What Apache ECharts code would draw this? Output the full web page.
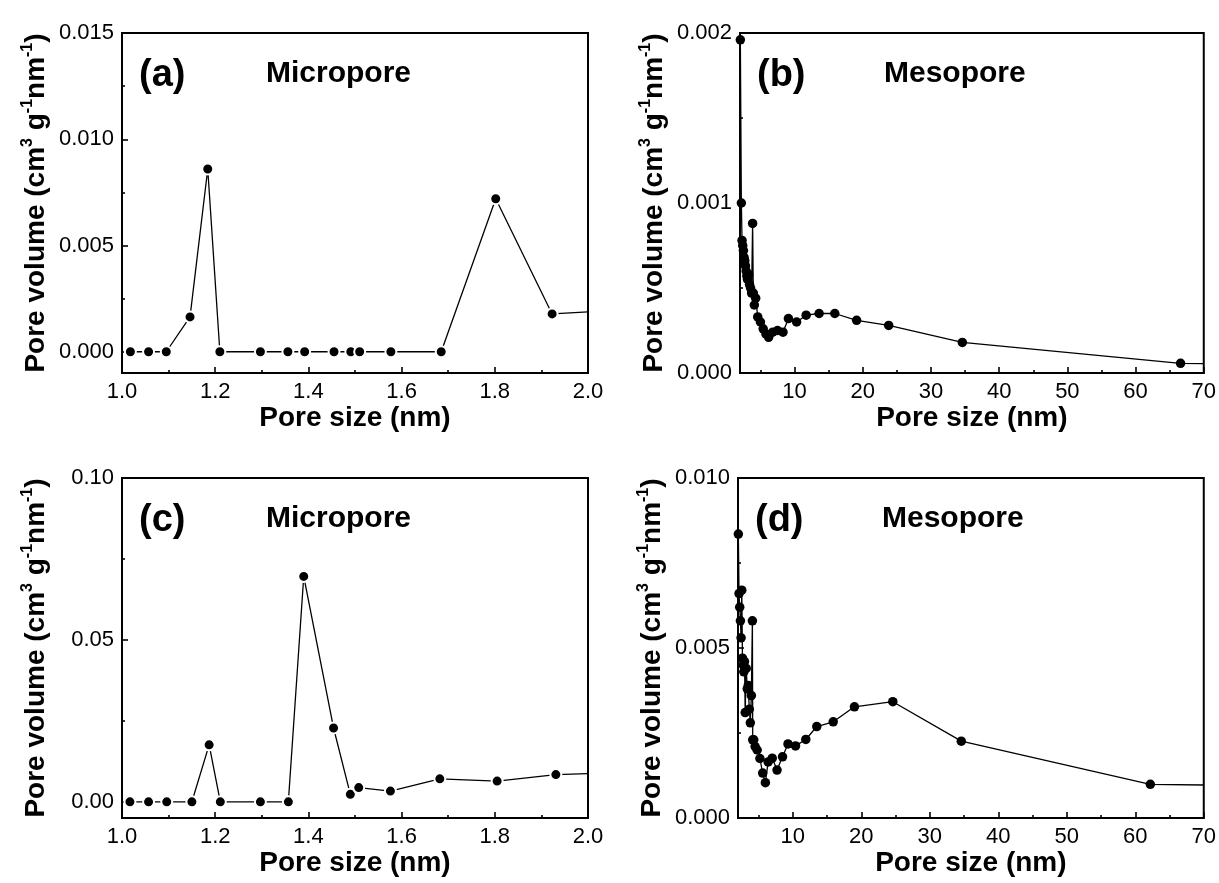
<!DOCTYPE html>
<html><head><meta charset="utf-8">
<script src="https://cdn.jsdelivr.net/npm/echarts@6/dist/echarts.min.js"></script>
<style>html,body{margin:0;padding:0;background:#fff}#c{width:1219px;height:883px}</style>
</head><body><div id="c"></div>
<script>
// ---- data (pore size in nm, pore volume in cm3 g-1 nm-1) ----
const aSize = [1.018, 1.057, 1.095, 1.146, 1.184, 1.210, 1.297, 1.356, 1.392, 1.455, 1.491, 1.510, 1.577, 1.685, 1.802, 1.923, 2.0];
const aVol  = [0, 0, 0, 0.00164, 0.0086, 0, 0, 0, 0, 0, 0, 0, 0, 0, 0.0072, 0.00178, 0.00188];

const bSize = [2.05, 2.2, 2.3, 2.4, 2.5, 2.6, 2.7, 2.8, 2.9, 3.0, 3.1, 3.25, 3.4, 3.55, 3.7, 3.85, 3.95, 4.1, 4.3, 4.6, 5.0, 5.4, 5.8, 6.2, 6.8, 7.5, 8.3, 9.1, 10.3, 11.7, 13.6, 15.9, 19.1, 23.8, 34.6, 66.6, 70];
const bVol  = [0.00196, 0.00100, 0.00078, 0.00075, 0.00072, 0.00068, 0.00066, 0.00063, 0.00060, 0.00057, 0.00055, 0.00058, 0.00052, 0.00050, 0.00047, 0.00088, 0.00047, 0.00040, 0.00044, 0.00033, 0.00030, 0.00026, 0.00023, 0.00021, 0.00024, 0.00025, 0.00024, 0.00032, 0.00030, 0.00034, 0.00035, 0.00035, 0.00031, 0.00028, 0.00018, 0.000057, 0.000055];

const cSize = [1.017, 1.057, 1.096, 1.150, 1.187, 1.211, 1.297, 1.357, 1.390, 1.454, 1.490, 1.508, 1.576, 1.682, 1.805, 1.931, 2.0];
const cVol  = [0, 0, 0, 0, 0.0176, 0, 0, 0, 0.0696, 0.0228, 0.0023, 0.0044, 0.0033, 0.0071, 0.0064, 0.0084, 0.0087];

const dSize = [2.05, 2.15, 2.25, 2.35, 2.45, 2.55, 2.65, 2.75, 2.85, 2.95, 3.05, 3.2, 3.35, 3.5, 3.65, 3.8, 3.95, 4.1, 4.15, 4.3, 4.5, 4.8, 5.2, 5.6, 6.0, 6.4, 7.0, 7.7, 8.5, 9.3, 10.4, 11.9, 13.5, 15.9, 19.0, 24.6, 34.6, 62.2, 70];
const dVol  = [0.00835, 0.0066, 0.0062, 0.0058, 0.0053, 0.0067, 0.0047, 0.0045, 0.0043, 0.0046, 0.0031, 0.0044, 0.0038, 0.0039, 0.0032, 0.0028, 0.0036, 0.0058, 0.0023, 0.0023, 0.0021, 0.0020, 0.00175, 0.00132, 0.00104, 0.00165, 0.00176, 0.00141, 0.0018, 0.00218, 0.00212, 0.00231, 0.00269, 0.00283, 0.00327, 0.00342, 0.00226, 0.00099, 0.00097];

// ---- tick labels ----
const microXTicks = [1.0, 1.2, 1.4, 1.6, 1.8, 2.0];
const microXMinor = [1.1, 1.3, 1.5, 1.7, 1.9];
const mesoXTicks  = [10, 20, 30, 40, 50, 60, 70];
const mesoXMinor  = [5, 15, 25, 35, 45, 55, 65];
const aYTicks = [0, 0.005, 0.010, 0.015];  const aYMinor = [0.0025, 0.0075, 0.0125];
const bYTicks = [0, 0.001, 0.002];         const bYMinor = [0.0005, 0.0015];
const cYTicks = [0, 0.05, 0.10];           const cYMinor = [0.025, 0.075];
const dYTicks = [0, 0.005, 0.010];         const dYMinor = [0.0025, 0.0075];

const panelLetters = ['(a)', '(b)', '(c)', '(d)'];
const panelNames = ['Micropore', 'Mesopore', 'Micropore', 'Mesopore'];

const FONT = '"Liberation Sans", Arial, sans-serif';

const panels = [
  {grid:{left:122, top:33, width:466, height:340}, x:[1,2], y:[-0.001,0.015], xt:microXTicks, xm:microXMinor, xd:1, yt:aYTicks, ym:aYMinor, yd:3, sx:aSize, sy:aVol, gap:true},
  {grid:{left:740, top:33, width:465, height:340}, x:[2,70], y:[0,0.002], xt:mesoXTicks, xm:mesoXMinor, xd:0, yt:bYTicks, ym:bYMinor, yd:3, sx:bSize, sy:bVol, gap:false},
  {grid:{left:122, top:478, width:466, height:340}, x:[1,2], y:[-0.005,0.10], xt:microXTicks, xm:microXMinor, xd:1, yt:cYTicks, ym:cYMinor, yd:2, sx:cSize, sy:cVol, gap:true},
  {grid:{left:738, top:478, width:467, height:340}, x:[2,70], y:[0,0.010], xt:mesoXTicks, xm:mesoXMinor, xd:0, yt:dYTicks, ym:dYMinor, yd:3, sx:dSize, sy:dVol, gap:false}
];

const grids = [], xAxes = [], yAxes = [], series = [], graphics = [];
const lineBlack = {color:'#000', width:2};
const tickStyle = {color:'#000', width:1.6};
const yName = '{t|Pore volume (cm}{s|3}{t| g}{s|-1}{t|nm}{s|-1}{t|)}';

panels.forEach((p, i) => {
  grids.push(Object.assign({show:true, borderColor:'#000', borderWidth:2, backgroundColor:'transparent'}, p.grid));
  xAxes.push({
    type:'value', gridIndex:i, position:'bottom', min:p.x[0], max:p.x[1],
    axisLine:{show:true, onZero:false, lineStyle:lineBlack},
    axisTick:{show:true, inside:true, length:6, lineStyle:tickStyle, customValues:p.xt},
    axisLabel:{show:true, customValues:p.xt, formatter:v => Number(v).toFixed(p.xd), color:'#000', fontSize:22, fontFamily:FONT, margin:8},
    splitLine:{show:false},
    name:'Pore size (nm)', nameLocation:'middle', nameGap:31,
    nameTextStyle:{color:'#000', fontSize:28, fontWeight:'bold', fontFamily:FONT}
  });
  xAxes.push({
    type:'value', gridIndex:i, position:'bottom', min:p.x[0], max:p.x[1],
    axisLine:{show:false, onZero:false},
    axisTick:{show:true, inside:true, length:3, lineStyle:tickStyle, customValues:p.xm},
    axisLabel:{show:false}, splitLine:{show:false}
  });
  yAxes.push({
    type:'value', gridIndex:i, position:'left', min:p.y[0], max:p.y[1],
    axisLine:{show:true, onZero:false, lineStyle:lineBlack},
    axisTick:{show:true, inside:true, length:6, lineStyle:tickStyle, customValues:p.yt},
    axisLabel:{show:true, customValues:p.yt, formatter:v => Number(v).toFixed(p.yd), color:'#000', fontSize:22, fontFamily:FONT, margin:8},
    splitLine:{show:false},
    name:yName, nameLocation:'middle', nameRotate:90, nameGap:70,
    nameTextStyle:{rich:{
      t:{color:'#000', fontSize:28, fontWeight:'bold', fontFamily:FONT, lineHeight:32},
      s:{color:'#000', fontSize:16, fontWeight:'bold', fontFamily:FONT, lineHeight:16, verticalAlign:'top'}
    }}
  });
  yAxes.push({
    type:'value', gridIndex:i, position:'left', min:p.y[0], max:p.y[1],
    axisLine:{show:false, onZero:false},
    axisTick:{show:true, inside:true, length:3, lineStyle:tickStyle, customValues:p.ym},
    axisLabel:{show:false}, splitLine:{show:false}
  });
  const data = p.sx.map((v, k) => {
    const item = {value:[v, p.sy[k]]};
    if (k === p.sx.length - 1) item.symbol = 'none';   // curve runs on past the frame
    return item;
  });
  series.push({
    type:'line', xAxisIndex:2*i, yAxisIndex:2*i, data:data,
    symbol:'circle', symbolSize: p.gap ? 11 : 9.5,
    itemStyle: p.gap ? {color:'#000', borderColor:'#fff', borderWidth:2} : {color:'#000'},
    lineStyle:{color:'#000', width:1.3}, clip:true, animation:false, z:3
  });
  const g = p.grid;
  graphics.push({type:'text', x:g.left + 17, y:g.top + 43, style:{text:panelLetters[i], font:'bold 38px ' + FONT, fill:'#000', verticalAlign:'middle'}});
  graphics.push({type:'text', x:g.left + 144, y:g.top + 41, style:{text:panelNames[i], font:'bold 30px ' + FONT, fill:'#000', verticalAlign:'middle'}});
});

const chart = echarts.init(document.getElementById('c'), null, {renderer:'canvas'});
chart.setOption({
  backgroundColor:'#fff', animation:false,
  grid:grids, xAxis:xAxes, yAxis:yAxes, series:series, graphic:graphics
});
</script>
</body></html>
